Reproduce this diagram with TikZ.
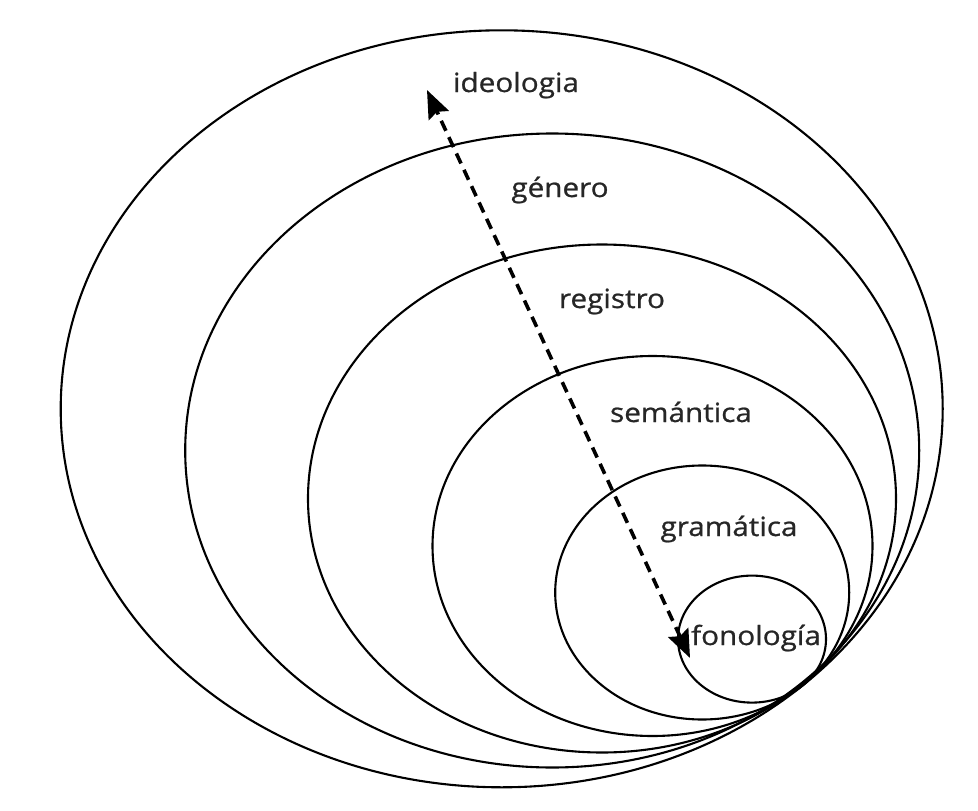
\documentclass[tikz,border=0pt]{standalone}
\usepackage{fontspec}
\setmainfont[FakeStretch=1.12,FakeBold=0.8]{Open Sans}
\usetikzlibrary{arrows.meta,shapes.geometric}
\begin{document}
\begin{tikzpicture}[x=1pt,y=-1pt,
  ring/.style={draw=black, line width=2.1pt, ellipse, inner sep=0pt, outer sep=0pt},
  lab/.style={anchor=base, inner sep=0pt, text=black!85, font=\fontsize{26.5}{30}\selectfont},
  dasharrow/.style={line width=3.6pt, dash pattern=on 11pt off 7pt,
     {Stealth[length=28pt,width=22pt,inset=4pt]}-{Stealth[length=28pt,width=22pt,inset=4pt]}}
]
\useasboundingbox (0,0) rectangle (978,811);
\fill[white] (0,0) rectangle (978,811);
% nested ellipses, all touching at the lower right
\node[ring, minimum width=882pt, minimum height=757pt] (e1) at (501.7,408.8) {};
\node[ring, minimum width=734pt, minimum height=634pt] (e2) at (552.2,450.5) {};
\node[ring, minimum width=588pt, minimum height=508pt] (e3) at (602.0,498.5) {};
\node[ring, minimum width=440pt, minimum height=380pt] (e4) at (652.5,546.0) {};
\node[ring, minimum width=294pt, minimum height=254pt] (e5) at (702.2,592.5) {};
\node[ring, minimum width=148pt, minimum height=127pt] (e6) at (752.0,639.1) {};
% labels
\node[lab] (l1) at (516,92) {ideologia};
\node[lab] (l2) at (560,197) {género};
\node[lab] (l3) at (612,308) {registro};
\node[lab] (l4) at (681,422) {semántica};
\node[lab] (l5) at (729,536) {gramática};
\node[lab] (l6) at (756,645) {fonología};
% dashed double arrow
\coordinate (atop) at (427,90);
\coordinate (abot) at (690,658);
\draw[dasharrow] (abot) -- (atop);
\end{tikzpicture}
\end{document}
